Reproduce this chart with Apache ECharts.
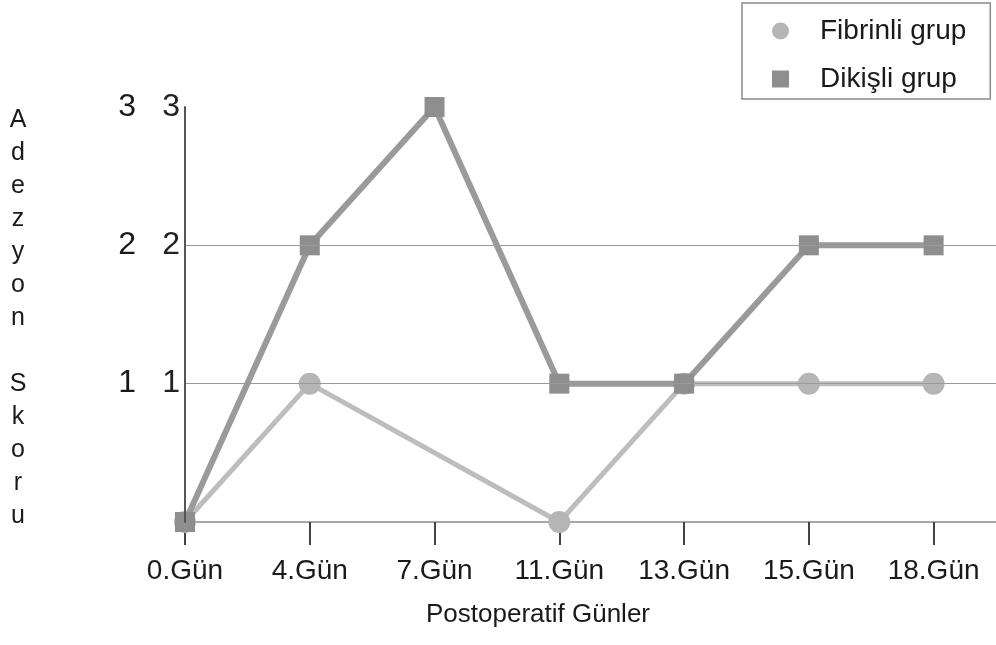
<!DOCTYPE html>
<html>
<head>
<meta charset="utf-8">
<script src="https://cdn.jsdelivr.net/npm/echarts@6/dist/echarts.min.js"></script>
<style>
html,body{margin:0;padding:0;background:#fff;}
#c{width:996px;height:645px;}
</style>
</head>
<body>
<div id="c"></div>
<script>
var categories = ['0.Gün', '4.Gün', '7.Gün', '11.Gün', '13.Gün', '15.Gün', '18.Gün'];
var fibrinli = [0, 1, null, 0, 1, 1, 1];
var dikisli = [0, 2, 3, 1, 1, 2, 2];
var yTicks = [1, 2, 3];
var seriesNames = ['Fibrinli grup', 'Dikişli grup'];
var xName = 'Postoperatif Günler';
var yName = 'Adezyon Skoru';

var FONT = '"Liberation Sans", Arial, sans-serif';
var idx = categories.map(function (c, i) { return i; });
function toPairs(arr) { return arr.map(function (v, i) { return [i, v]; }); }
var letters = yName.split('').map(function (ch) { return ch === ' ' ? '' : ch; }).join('\n');

var chart = echarts.init(document.getElementById('c'), null, {renderer: 'canvas'});
var option = {
  backgroundColor: '#ffffff',
  animation: false,
  grid: {left: 185, right: 0, top: 107, bottom: 123, containLabel: false},
  legend: {
    orient: 'vertical',
    left: 742, top: 3,
    padding: [14, 24, 6, 30],
    itemGap: 20,
    itemWidth: 17, itemHeight: 17,
    borderColor: '#8a8a8a', borderWidth: 1.5,
    textStyle: {fontFamily: FONT, fontSize: 28, color: '#1a1a1a', padding: [0, 0, 0, 26]},
    data: [{name: seriesNames[0], icon: 'circle'}, {name: seriesNames[1], icon: 'rect'}]
  },
  xAxis: {
    type: 'value', min: 0, max: 6.5, interval: 1,
    axisLine: {show: true, onZero: false, lineStyle: {color: '#8a8a8a', width: 1.5}},
    axisTick: {show: true, length: 23, customValues: idx, lineStyle: {color: '#444', width: 2}},
    axisLabel: {
      show: true, margin: 35, customValues: idx,
      fontFamily: FONT, fontSize: 28, color: '#1a1a1a',
      formatter: function (v) { return categories[Math.round(v)] || ''; }
    },
    splitLine: {show: false}
  },
  yAxis: [{
    type: 'value', min: 0, max: 3, interval: 1, z: 10,
    axisLine: {show: true, lineStyle: {color: '#555', width: 2}},
    axisTick: {show: false},
    axisLabel: {show: true, margin: 5, customValues: yTicks, fontFamily: FONT, fontSize: 32, color: '#222'},
    splitLine: {show: true, showMinLine: false, showMaxLine: false,
      lineStyle: {color: '#9a9a9a', width: 1.2}}
  }, {
    type: 'value', min: 0, max: 3, interval: 1, position: 'left', offset: 44,
    axisLine: {show: false}, axisTick: {show: false}, splitLine: {show: false},
    axisLabel: {show: true, margin: 5, customValues: yTicks, fontFamily: FONT, fontSize: 32, color: '#1a1a1a'}
  }],
  graphic: [
    {type: 'text', x: 538, y: 615,
      style: {text: xName, fontFamily: FONT, fontSize: 26, fill: '#1a1a1a', align: 'center', verticalAlign: 'middle'}},
    {type: 'text', x: 18, y: 104,
      style: {text: letters, fontFamily: FONT, fontSize: 25, fill: '#1a1a1a', align: 'center', verticalAlign: 'top', lineHeight: 33}}
  ],
  series: [{
    name: seriesNames[0], type: 'line', data: toPairs(fibrinli), connectNulls: true,
    symbol: 'circle', symbolSize: 22, z: 2,
    lineStyle: {color: '#bdbdbd', width: 5},
    itemStyle: {color: '#b5b5b5'}
  }, {
    name: seriesNames[1], type: 'line', data: toPairs(dikisli),
    symbol: 'rect', symbolSize: 20, z: 3,
    lineStyle: {color: '#9a9a9a', width: 6},
    itemStyle: {color: '#8e8e8e'}
  }]
};
chart.setOption(option);
</script>
</body>
</html>
